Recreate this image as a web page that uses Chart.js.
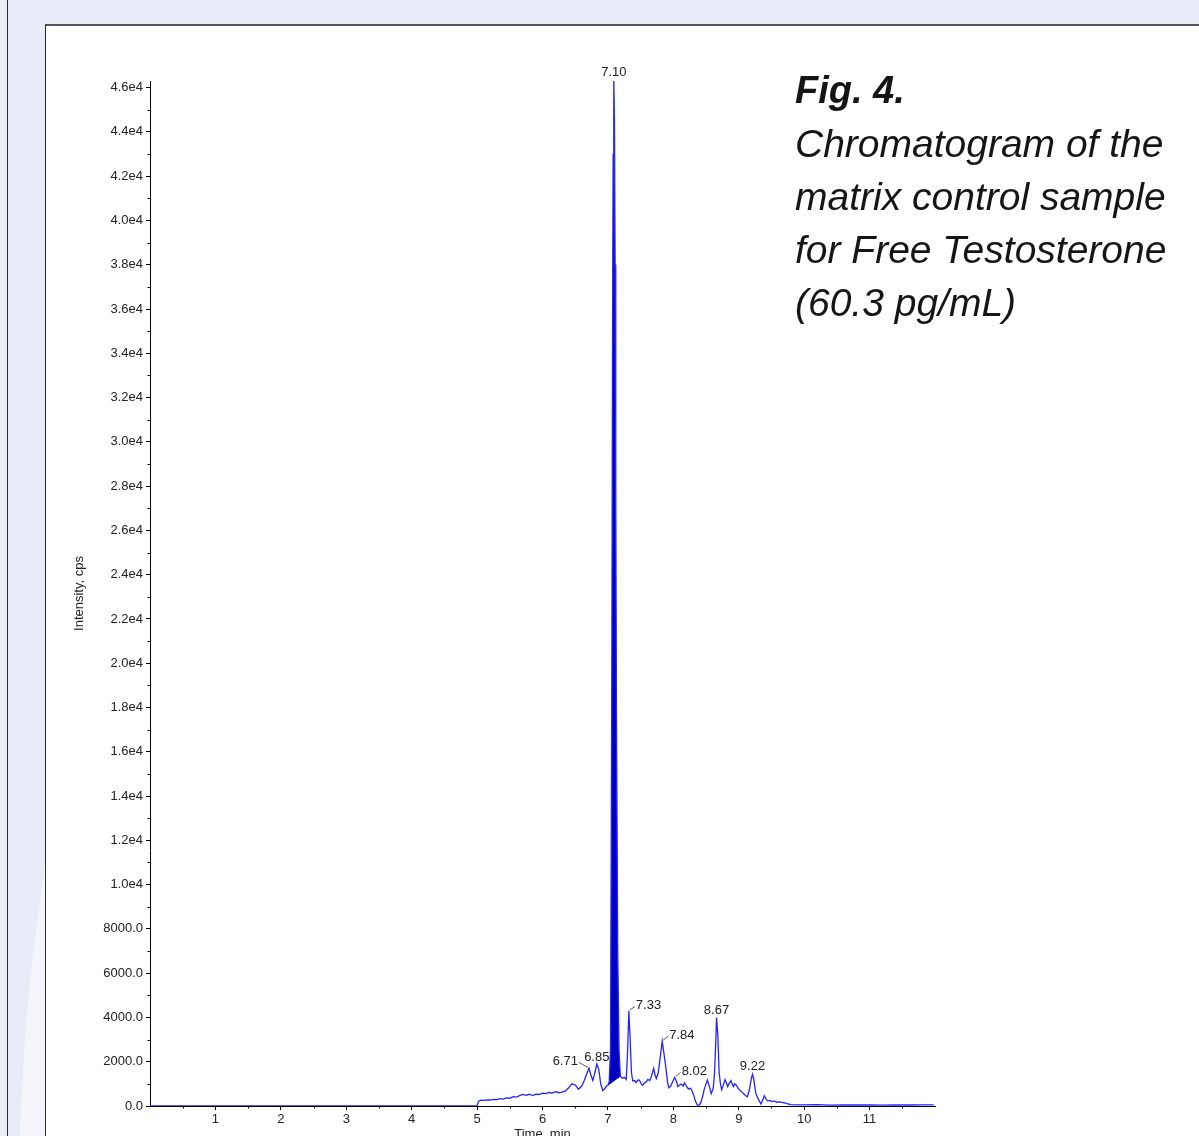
<!DOCTYPE html>
<html>
<head>
<meta charset="utf-8">
<title>Fig. 4 chromatogram</title>
<script src="https://cdn.jsdelivr.net/npm/chart.js@4.4.1/dist/chart.umd.min.js"></script>
<style>
  html, body { margin: 0; padding: 0; }
  body {
    width: 1199px; height: 1136px; overflow: hidden; position: relative;
    background: #e8ecf6; font-family: "Liberation Sans", Arial, sans-serif;
  }
  #left-strip {
    position: absolute; left: 0; top: 0; width: 7px; height: 1136px;
    background: #e9edf6; border-right: 1.5px solid #2a2a2a;
  }
  #gap {
    position: absolute; left: 9px; top: 24px; width: 40px; height: 1112px;
    overflow: hidden; background: #e8ecf6;
  }
  #swoosh {
    position: absolute; left: 10px; top: -978px; width: 4308px; height: 4308px;
    border-radius: 50%; background: #f3f5fa;
  }
  #panel {
    position: absolute; left: 45px; top: 24px; right: 0; bottom: 0;
    background: #fff; border-left: 1.5px solid #2a2a2a; border-top: 2px solid #555;
  }
  #chart { position: absolute; left: 0; top: 0; }
  #caption {
    position: absolute; left: 795px; top: 63px; font-size: 39px; line-height: 53px;
    font-style: italic; color: #151515; white-space: nowrap;
  }
  #caption b { font-weight: bold; font-size: 38px; }
</style>
</head>
<body>
<div id="left-strip"></div>
<div id="gap"><div id="swoosh"></div></div>
<div id="panel"></div>
<canvas id="chart" width="1199" height="1146"></canvas>
<div id="caption"><b>Fig. 4.</b><br>Chromatogram of the<br>matrix control sample<br>for Free Testosterone<br>(60.3 pg/mL)</div>
<script>
// XIC trace, time (min) and intensity (cps)
const timeMin = [
  0, 4.99, 5.00, 5.02, 5.05, 5.10, 5.15, 5.20, 5.25, 5.30, 5.35, 5.40, 5.45, 5.50,
  5.55, 5.60, 5.65, 5.70, 5.75, 5.80, 5.85, 5.90, 5.95, 6.00, 6.05, 6.10, 6.15, 6.20,
  6.25, 6.30, 6.35, 6.40, 6.45, 6.50, 6.55, 6.60, 6.64, 6.67, 6.71, 6.74, 6.77, 6.80,
  6.83, 6.86, 6.89, 6.92, 6.95, 6.98, 7.00, 7.02, 7.04, 7.06, 7.07, 7.08, 7.09, 7.10,
  7.11, 7.12, 7.13, 7.15, 7.17, 7.19, 7.22, 7.25, 7.28, 7.30, 7.32, 7.34, 7.36, 7.38,
  7.41, 7.43, 7.46, 7.48, 7.51, 7.53, 7.56, 7.59, 7.61, 7.64, 7.66, 7.70, 7.72, 7.74,
  7.77, 7.80, 7.83, 7.86, 7.89, 7.91, 7.93, 7.96, 7.99, 8.02, 8.05, 8.07, 8.10, 8.12,
  8.15, 8.17, 8.20, 8.23, 8.26, 8.28, 8.31, 8.34, 8.37, 8.40, 8.42, 8.45, 8.47, 8.50,
  8.52, 8.55, 8.58, 8.61, 8.63, 8.65, 8.66, 8.68, 8.70, 8.72, 8.74, 8.77, 8.79, 8.81,
  8.83, 8.85, 8.88, 8.90, 8.92, 8.94, 8.96, 8.98, 9.01, 9.04, 9.08, 9.11, 9.13, 9.16,
  9.19, 9.21, 9.23, 9.26, 9.30, 9.34, 9.37, 9.39, 9.42, 9.44, 9.48, 9.51, 9.54, 9.58,
  9.62, 9.66, 9.70, 9.75, 9.80, 9.90, 10.0, 10.2, 10.4, 10.6, 10.8, 11.0, 11.2, 11.4,
  11.6, 11.8, 11.98
];
const intensity = [
  0, 0, 0, 200, 260, 250, 280, 270, 300, 290, 330, 310, 370, 350,
  420, 400, 470, 520, 480, 530, 470, 540, 520, 580, 560, 610, 580, 650,
  600, 630, 680, 820, 1000, 950, 760, 900, 1160, 1400, 1700, 1400, 1150, 1500,
  1900, 1650, 1000, 700, 780, 900, 940, 1100, 2600, 20000, 34000, 43000, 46300, 44500,
  38000, 28000, 18000, 7000, 2500, 1350, 1250, 1300, 1200, 2400, 4300, 3000, 1500, 1130,
  1150, 1060, 1180, 1170, 1000, 940, 1050, 1100, 1200, 1150, 1300, 1700, 1400, 1240,
  1500, 2200, 2930, 2300, 1650, 1100, 820, 900, 1100, 1290, 1100, 880, 950, 990,
  900, 1040, 900, 770, 800, 730, 500, 200, 30, 50, 150, 450, 730, 1000,
  1170, 900, 560, 800, 1500, 3000, 4000, 3200, 1510, 1000, 730, 1000, 1190, 1050,
  880, 1000, 1140, 1000, 880, 1000, 950, 850, 730, 650, 540, 450, 420, 700,
  1200, 1430, 1200, 580, 300, 90, 300, 460, 300, 230, 250, 200, 230, 170,
  190, 160, 140, 100, 60, 50, 50, 60, 40, 50, 45, 55, 40, 50,
  45, 55, 50
];

// integrated area of the 7.10 peak: start/end of the drawn baseline
const integTimes = [7.00, 7.19];
const integBase = [940, 1350];

// peak annotations
const peakLabels = ['7.10', '6.71', '6.85', '7.33', '7.84', '8.02', '8.67', '9.22'];
const peakTimes = [7.09, 6.71, 6.83, 7.32, 7.83, 8.02, 8.66, 9.21];
const peakHeights = [46300, 1700, 1900, 4300, 2930, 1290, 4000, 1430];

// axes
const xTickValues = [0, 1, 2, 3, 4, 5, 6, 7, 8, 9, 10, 11, 12];
const xTickLabels = ['', '1', '2', '3', '4', '5', '6', '7', '8', '9', '10', '11', ''];
const xMinorTicks = [0.5, 1.5, 2.5, 3.5, 4.5, 5.5, 6.5, 7.5, 8.5, 9.5, 10.5, 11.5];
const yTickValues = [0, 2000, 4000, 6000, 8000, 10000, 12000, 14000, 16000, 18000, 20000, 22000,
  24000, 26000, 28000, 30000, 32000, 34000, 36000, 38000, 40000, 42000, 44000, 46000];
const yTickLabels = ['0.0', '2000.0', '4000.0', '6000.0', '8000.0', '1.0e4', '1.2e4', '1.4e4', '1.6e4',
  '1.8e4', '2.0e4', '2.2e4', '2.4e4', '2.6e4', '2.8e4', '3.0e4', '3.2e4', '3.4e4', '3.6e4', '3.8e4',
  '4.0e4', '4.2e4', '4.4e4', '4.6e4'];
const yMinorTicks = [1000, 3000, 5000, 7000, 9000, 11000, 13000, 15000, 17000, 19000, 21000, 23000,
  25000, 27000, 29000, 31000, 33000, 35000, 37000, 39000, 41000, 43000, 45000];

const TRACE = '#2424ff';
const AREA = '#0000bf';
const FONT = '"Liberation Sans", Arial, sans-serif';

const tracePoints = timeMin.map((t, i) => ({ x: t, y: intensity[i] }));
const areaPoints = tracePoints.filter((p) => p.x >= integTimes[0] && p.x <= integTimes[1]);
const basePoints = integTimes.map((t, i) => ({ x: t, y: integBase[i] }));

// where each peak label sits relative to its apex
const labelPlacement = {
  '7.10': { dx: 0, dy: -9, align: 'center' },
  '6.71': { dx: -11, dy: -7, align: 'right', leader: true },
  '6.85': { dx: 0, dy: -7, align: 'center' },
  '7.33': { dx: 7, dy: -5, align: 'left', leader: true },
  '7.84': { dx: 7, dy: -6, align: 'left', leader: true },
  '8.02': { dx: 7, dy: -6, align: 'left', leader: true },
  '8.67': { dx: 0, dy: -7, align: 'center' },
  '9.22': { dx: 0, dy: -8, align: 'center' }
};

const peakLabelPlugin = {
  id: 'peakLabels',
  afterDatasetsDraw(chart) {
    const { ctx, scales: { x, y } } = chart;
    ctx.save();
    ctx.font = '13px ' + FONT;
    ctx.fillStyle = '#222';
    ctx.strokeStyle = '#333';
    ctx.lineWidth = 0.8;
    ctx.textBaseline = 'middle';
    peakLabels.forEach((txt, i) => {
      const px = x.getPixelForValue(peakTimes[i]);
      const py = y.getPixelForValue(peakHeights[i]);
      const p = labelPlacement[txt];
      if (p.leader) {
        ctx.beginPath();
        ctx.moveTo(px + (p.dx > 0 ? 1 : -1), py - 1);
        ctx.lineTo(px + p.dx + (p.dx > 0 ? -1 : 1), py + p.dy + 1);
        ctx.stroke();
      }
      ctx.textAlign = p.align;
      ctx.fillText(txt, px + p.dx, py + p.dy);
    });
    ctx.restore();
  }
};

const minorTickPlugin = {
  id: 'minorTicks',
  afterDraw(chart) {
    const { ctx, scales: { x, y }, chartArea } = chart;
    ctx.save();
    ctx.strokeStyle = '#000';
    ctx.lineWidth = 1;
    ctx.beginPath();
    for (const v of yMinorTicks) {
      const py = Math.round(y.getPixelForValue(v)) + 0.5;
      ctx.moveTo(chartArea.left - 2.5, py);
      ctx.lineTo(chartArea.left, py);
    }
    for (const v of xMinorTicks) {
      const px = Math.round(x.getPixelForValue(v)) + 0.5;
      ctx.moveTo(px, chartArea.bottom);
      ctx.lineTo(px, chartArea.bottom + 2.5);
    }
    ctx.stroke();
    ctx.restore();
  }
};

new Chart(document.getElementById('chart'), {
  type: 'line',
  data: {
    datasets: [
      {
        label: 'trace',
        data: tracePoints,
        borderColor: TRACE,
        borderWidth: 1.3,
        pointRadius: 0,
        tension: 0,
        fill: false
      },
      {
        label: 'area',
        data: areaPoints,
        borderWidth: 0,
        borderColor: AREA,
        backgroundColor: AREA,
        pointRadius: 0,
        tension: 0,
        fill: { target: 2 }
      },
      {
        label: 'baseline',
        data: basePoints,
        borderColor: AREA,
        borderWidth: 1,
        pointRadius: 0,
        fill: false
      }
    ]
  },
  options: {
    responsive: false,
    animation: false,
    events: [],
    layout: { padding: { left: 68, right: 264, top: 81, bottom: 0 } },
    plugins: { legend: { display: false }, tooltip: { enabled: false } },
    scales: {
      x: {
        type: 'linear',
        min: 0,
        max: 12,
        afterFit(scale) { scale.height = 40; },
        afterBuildTicks(scale) { scale.ticks = xTickValues.map((v) => ({ value: v })); },
        grid: {
          drawOnChartArea: false,
          tickLength: 4,
          tickColor: (ctx) => (ctx.tick && xTickLabels[xTickValues.indexOf(ctx.tick.value)] ? '#000' : 'rgba(0,0,0,0)')
        },
        border: { color: '#000', width: 1 },
        ticks: {
          autoSkip: false,
          maxRotation: 0,
          padding: 2,
          color: '#222',
          font: { family: FONT, size: 13 },
          callback: (value, index) => xTickLabels[index]
        },
        title: {
          display: true,
          text: 'Time, min',
          color: '#222',
          font: { family: FONT, size: 13 }
        }
      },
      y: {
        type: 'linear',
        min: 0,
        max: 46300,
        afterFit(scale) { scale.width = 82; },
        afterBuildTicks(scale) { scale.ticks = yTickValues.map((v) => ({ value: v })); },
        grid: { drawOnChartArea: false, tickLength: 4, tickColor: '#000' },
        border: { color: '#000', width: 1 },
        ticks: {
          autoSkip: false,
          padding: 3,
          color: '#222',
          font: { family: FONT, size: 13 },
          callback: (value, index) => yTickLabels[index]
        },
        title: {
          display: true,
          text: 'Intensity, cps',
          color: '#222',
          font: { family: FONT, size: 13 }
        }
      }
    }
  },
  plugins: [peakLabelPlugin, minorTickPlugin]
});
</script>
</body>
</html>
